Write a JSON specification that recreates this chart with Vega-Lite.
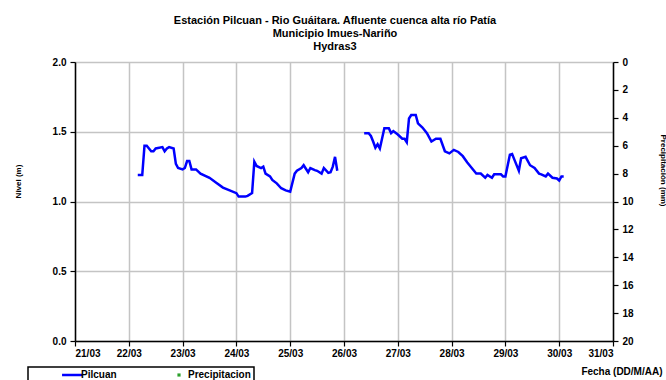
{
  "$schema": "https://vega.github.io/schema/vega-lite/v6.json",
  "width": 538,
  "height": 279,
  "autosize": {"type": "none"},
  "padding": {"left": 75, "top": 62, "right": 53, "bottom": 39},
  "background": "white",
  "title": {
    "text": ["Estación Pilcuan - Rio Guáitara. Afluente cuenca alta río Patía", "Municipio Imues-Nariño", "Hydras3"],
    "font": "Liberation Sans", "fontSize": 11, "fontWeight": "bold", "lineHeight": 13,
    "offset": 5, "dx": -9, "color": "black"
  },
  "config": {
    "view": {"stroke": null},
    "axis": {
      "labelFont": "Liberation Sans", "labelFontWeight": "bold", "labelFontSize": 10, "labelColor": "black",
      "titleFont": "Liberation Sans", "titleFontWeight": "bold", "titleFontSize": 10, "titleColor": "black",
      "domainColor": "black", "domainWidth": 1.5, "tickColor": "black", "tickSize": 5, "tickWidth": 1.2,
      "gridColor": "#c4c4c4", "gridWidth": 1.5
    },
    "legend": {
      "orient": "none", "legendX": -47, "legendY": 305, "direction": "horizontal",
      "strokeColor": "black", "strokeWidth": 1.5, "padding": 3, "title": null,
      "labelFont": "Liberation Sans", "labelFontWeight": "bold", "labelFontSize": 10, "labelColor": "black",
      "columnPadding": 21, "symbolOffset": 36, "labelOffset": 4
    }
  },
  "data": {"values": [
    {"t": "2012-03-22T04:00", "nivel": 1.19, "seg": 1, "serie": "Pilcuan"},
    {"t": "2012-03-22T06:00", "nivel": 1.19, "seg": 1, "serie": "Pilcuan"},
    {"t": "2012-03-22T07:00", "nivel": 1.40, "seg": 1, "serie": "Pilcuan"},
    {"t": "2012-03-22T08:00", "nivel": 1.40, "seg": 1, "serie": "Pilcuan"},
    {"t": "2012-03-22T10:00", "nivel": 1.36, "seg": 1, "serie": "Pilcuan"},
    {"t": "2012-03-22T11:00", "nivel": 1.36, "seg": 1, "serie": "Pilcuan"},
    {"t": "2012-03-22T12:00", "nivel": 1.38, "seg": 1, "serie": "Pilcuan"},
    {"t": "2012-03-22T15:00", "nivel": 1.39, "seg": 1, "serie": "Pilcuan"},
    {"t": "2012-03-22T16:00", "nivel": 1.36, "seg": 1, "serie": "Pilcuan"},
    {"t": "2012-03-22T17:00", "nivel": 1.38, "seg": 1, "serie": "Pilcuan"},
    {"t": "2012-03-22T18:00", "nivel": 1.39, "seg": 1, "serie": "Pilcuan"},
    {"t": "2012-03-22T20:00", "nivel": 1.38, "seg": 1, "serie": "Pilcuan"},
    {"t": "2012-03-22T21:00", "nivel": 1.27, "seg": 1, "serie": "Pilcuan"},
    {"t": "2012-03-22T22:00", "nivel": 1.24, "seg": 1, "serie": "Pilcuan"},
    {"t": "2012-03-23T00:00", "nivel": 1.23, "seg": 1, "serie": "Pilcuan"},
    {"t": "2012-03-23T01:00", "nivel": 1.24, "seg": 1, "serie": "Pilcuan"},
    {"t": "2012-03-23T02:00", "nivel": 1.29, "seg": 1, "serie": "Pilcuan"},
    {"t": "2012-03-23T03:00", "nivel": 1.29, "seg": 1, "serie": "Pilcuan"},
    {"t": "2012-03-23T04:00", "nivel": 1.23, "seg": 1, "serie": "Pilcuan"},
    {"t": "2012-03-23T06:00", "nivel": 1.23, "seg": 1, "serie": "Pilcuan"},
    {"t": "2012-03-23T08:00", "nivel": 1.20, "seg": 1, "serie": "Pilcuan"},
    {"t": "2012-03-23T12:00", "nivel": 1.17, "seg": 1, "serie": "Pilcuan"},
    {"t": "2012-03-23T15:00", "nivel": 1.135, "seg": 1, "serie": "Pilcuan"},
    {"t": "2012-03-23T18:00", "nivel": 1.10, "seg": 1, "serie": "Pilcuan"},
    {"t": "2012-03-23T21:00", "nivel": 1.08, "seg": 1, "serie": "Pilcuan"},
    {"t": "2012-03-24T00:00", "nivel": 1.06, "seg": 1, "serie": "Pilcuan"},
    {"t": "2012-03-24T01:00", "nivel": 1.035, "seg": 1, "serie": "Pilcuan"},
    {"t": "2012-03-24T04:00", "nivel": 1.035, "seg": 1, "serie": "Pilcuan"},
    {"t": "2012-03-24T05:00", "nivel": 1.04, "seg": 1, "serie": "Pilcuan"},
    {"t": "2012-03-24T07:00", "nivel": 1.06, "seg": 1, "serie": "Pilcuan"},
    {"t": "2012-03-24T08:00", "nivel": 1.285, "seg": 1, "serie": "Pilcuan"},
    {"t": "2012-03-24T09:00", "nivel": 1.255, "seg": 1, "serie": "Pilcuan"},
    {"t": "2012-03-24T11:00", "nivel": 1.24, "seg": 1, "serie": "Pilcuan"},
    {"t": "2012-03-24T12:00", "nivel": 1.25, "seg": 1, "serie": "Pilcuan"},
    {"t": "2012-03-24T13:00", "nivel": 1.20, "seg": 1, "serie": "Pilcuan"},
    {"t": "2012-03-24T15:00", "nivel": 1.18, "seg": 1, "serie": "Pilcuan"},
    {"t": "2012-03-24T16:00", "nivel": 1.155, "seg": 1, "serie": "Pilcuan"},
    {"t": "2012-03-24T18:00", "nivel": 1.13, "seg": 1, "serie": "Pilcuan"},
    {"t": "2012-03-24T20:00", "nivel": 1.095, "seg": 1, "serie": "Pilcuan"},
    {"t": "2012-03-24T22:00", "nivel": 1.08, "seg": 1, "serie": "Pilcuan"},
    {"t": "2012-03-25T00:00", "nivel": 1.07, "seg": 1, "serie": "Pilcuan"},
    {"t": "2012-03-25T02:00", "nivel": 1.20, "seg": 1, "serie": "Pilcuan"},
    {"t": "2012-03-25T03:00", "nivel": 1.22, "seg": 1, "serie": "Pilcuan"},
    {"t": "2012-03-25T05:00", "nivel": 1.24, "seg": 1, "serie": "Pilcuan"},
    {"t": "2012-03-25T06:00", "nivel": 1.26, "seg": 1, "serie": "Pilcuan"},
    {"t": "2012-03-25T08:00", "nivel": 1.21, "seg": 1, "serie": "Pilcuan"},
    {"t": "2012-03-25T09:00", "nivel": 1.24, "seg": 1, "serie": "Pilcuan"},
    {"t": "2012-03-25T11:00", "nivel": 1.225, "seg": 1, "serie": "Pilcuan"},
    {"t": "2012-03-25T12:00", "nivel": 1.22, "seg": 1, "serie": "Pilcuan"},
    {"t": "2012-03-25T14:00", "nivel": 1.20, "seg": 1, "serie": "Pilcuan"},
    {"t": "2012-03-25T15:00", "nivel": 1.24, "seg": 1, "serie": "Pilcuan"},
    {"t": "2012-03-25T17:00", "nivel": 1.205, "seg": 1, "serie": "Pilcuan"},
    {"t": "2012-03-25T18:00", "nivel": 1.21, "seg": 1, "serie": "Pilcuan"},
    {"t": "2012-03-25T19:00", "nivel": 1.25, "seg": 1, "serie": "Pilcuan"},
    {"t": "2012-03-25T20:00", "nivel": 1.32, "seg": 1, "serie": "Pilcuan"},
    {"t": "2012-03-25T21:00", "nivel": 1.22, "seg": 1, "serie": "Pilcuan"},
    {"t": "2012-03-26T09:00", "nivel": 1.49, "seg": 2, "serie": "Pilcuan"},
    {"t": "2012-03-26T11:00", "nivel": 1.49, "seg": 2, "serie": "Pilcuan"},
    {"t": "2012-03-26T12:00", "nivel": 1.47, "seg": 2, "serie": "Pilcuan"},
    {"t": "2012-03-26T13:00", "nivel": 1.43, "seg": 2, "serie": "Pilcuan"},
    {"t": "2012-03-26T14:00", "nivel": 1.385, "seg": 2, "serie": "Pilcuan"},
    {"t": "2012-03-26T15:00", "nivel": 1.41, "seg": 2, "serie": "Pilcuan"},
    {"t": "2012-03-26T16:00", "nivel": 1.38, "seg": 2, "serie": "Pilcuan"},
    {"t": "2012-03-26T18:00", "nivel": 1.525, "seg": 2, "serie": "Pilcuan"},
    {"t": "2012-03-26T20:00", "nivel": 1.525, "seg": 2, "serie": "Pilcuan"},
    {"t": "2012-03-26T21:00", "nivel": 1.49, "seg": 2, "serie": "Pilcuan"},
    {"t": "2012-03-26T22:00", "nivel": 1.505, "seg": 2, "serie": "Pilcuan"},
    {"t": "2012-03-27T00:00", "nivel": 1.48, "seg": 2, "serie": "Pilcuan"},
    {"t": "2012-03-27T02:00", "nivel": 1.45, "seg": 2, "serie": "Pilcuan"},
    {"t": "2012-03-27T03:00", "nivel": 1.45, "seg": 2, "serie": "Pilcuan"},
    {"t": "2012-03-27T04:00", "nivel": 1.425, "seg": 2, "serie": "Pilcuan"},
    {"t": "2012-03-27T05:00", "nivel": 1.595, "seg": 2, "serie": "Pilcuan"},
    {"t": "2012-03-27T06:00", "nivel": 1.62, "seg": 2, "serie": "Pilcuan"},
    {"t": "2012-03-27T08:00", "nivel": 1.62, "seg": 2, "serie": "Pilcuan"},
    {"t": "2012-03-27T09:00", "nivel": 1.56, "seg": 2, "serie": "Pilcuan"},
    {"t": "2012-03-27T11:00", "nivel": 1.53, "seg": 2, "serie": "Pilcuan"},
    {"t": "2012-03-27T13:00", "nivel": 1.49, "seg": 2, "serie": "Pilcuan"},
    {"t": "2012-03-27T15:00", "nivel": 1.43, "seg": 2, "serie": "Pilcuan"},
    {"t": "2012-03-27T17:00", "nivel": 1.45, "seg": 2, "serie": "Pilcuan"},
    {"t": "2012-03-27T19:00", "nivel": 1.45, "seg": 2, "serie": "Pilcuan"},
    {"t": "2012-03-27T21:00", "nivel": 1.36, "seg": 2, "serie": "Pilcuan"},
    {"t": "2012-03-27T23:00", "nivel": 1.345, "seg": 2, "serie": "Pilcuan"},
    {"t": "2012-03-28T01:00", "nivel": 1.37, "seg": 2, "serie": "Pilcuan"},
    {"t": "2012-03-28T03:00", "nivel": 1.355, "seg": 2, "serie": "Pilcuan"},
    {"t": "2012-03-28T05:00", "nivel": 1.325, "seg": 2, "serie": "Pilcuan"},
    {"t": "2012-03-28T07:00", "nivel": 1.28, "seg": 2, "serie": "Pilcuan"},
    {"t": "2012-03-28T09:00", "nivel": 1.24, "seg": 2, "serie": "Pilcuan"},
    {"t": "2012-03-28T11:00", "nivel": 1.20, "seg": 2, "serie": "Pilcuan"},
    {"t": "2012-03-28T13:00", "nivel": 1.20, "seg": 2, "serie": "Pilcuan"},
    {"t": "2012-03-28T15:00", "nivel": 1.17, "seg": 2, "serie": "Pilcuan"},
    {"t": "2012-03-28T16:00", "nivel": 1.19, "seg": 2, "serie": "Pilcuan"},
    {"t": "2012-03-28T18:00", "nivel": 1.17, "seg": 2, "serie": "Pilcuan"},
    {"t": "2012-03-28T19:00", "nivel": 1.195, "seg": 2, "serie": "Pilcuan"},
    {"t": "2012-03-28T22:00", "nivel": 1.195, "seg": 2, "serie": "Pilcuan"},
    {"t": "2012-03-28T23:00", "nivel": 1.18, "seg": 2, "serie": "Pilcuan"},
    {"t": "2012-03-29T00:00", "nivel": 1.18, "seg": 2, "serie": "Pilcuan"},
    {"t": "2012-03-29T02:00", "nivel": 1.335, "seg": 2, "serie": "Pilcuan"},
    {"t": "2012-03-29T03:00", "nivel": 1.34, "seg": 2, "serie": "Pilcuan"},
    {"t": "2012-03-29T04:00", "nivel": 1.30, "seg": 2, "serie": "Pilcuan"},
    {"t": "2012-03-29T06:00", "nivel": 1.22, "seg": 2, "serie": "Pilcuan"},
    {"t": "2012-03-29T07:00", "nivel": 1.31, "seg": 2, "serie": "Pilcuan"},
    {"t": "2012-03-29T09:00", "nivel": 1.32, "seg": 2, "serie": "Pilcuan"},
    {"t": "2012-03-29T11:00", "nivel": 1.26, "seg": 2, "serie": "Pilcuan"},
    {"t": "2012-03-29T13:00", "nivel": 1.24, "seg": 2, "serie": "Pilcuan"},
    {"t": "2012-03-29T15:00", "nivel": 1.20, "seg": 2, "serie": "Pilcuan"},
    {"t": "2012-03-29T16:00", "nivel": 1.195, "seg": 2, "serie": "Pilcuan"},
    {"t": "2012-03-29T18:00", "nivel": 1.18, "seg": 2, "serie": "Pilcuan"},
    {"t": "2012-03-29T19:00", "nivel": 1.20, "seg": 2, "serie": "Pilcuan"},
    {"t": "2012-03-29T21:00", "nivel": 1.17, "seg": 2, "serie": "Pilcuan"},
    {"t": "2012-03-29T23:00", "nivel": 1.165, "seg": 2, "serie": "Pilcuan"},
    {"t": "2012-03-30T00:00", "nivel": 1.15, "seg": 2, "serie": "Pilcuan"},
    {"t": "2012-03-30T01:00", "nivel": 1.18, "seg": 2, "serie": "Pilcuan"},
    {"t": "2012-03-30T02:00", "nivel": 1.18, "seg": 2, "serie": "Pilcuan"},
    {"t": "2012-03-22T00:00", "precip": null, "serie": "Precipitacion"}
  ]},
  "layer": [
    {
      "transform": [{"filter": "datum.serie === 'Pilcuan'"}],
      "mark": {"type": "line", "strokeWidth": 2.5},
      "encoding": {
        "x": {"field": "t", "type": "temporal",
          "scale": {"domain": [{"year": 2012, "month": 3, "date": 21}, {"year": 2012, "month": 3, "date": 31}]},
          "axis": {"title": "Fecha (DD/M/AA)", "format": "%d/%m", "tickCount": {"interval": "day", "step": 1},
            "labelPadding": 2, "titleX": 587, "titleY": 33, "titleAlign": "right", "titleBaseline": "alphabetic", "titleAnchor": null}},
        "y": {"field": "nivel", "type": "quantitative",
          "scale": {"domain": [0, 2]},
          "axis": {"title": "Nivel (m)", "values": [0, 0.5, 1, 1.5, 2], "format": ".1f", "labelPadding": 4,
            "titleFontSize": 8, "titleX": -57, "titleY": 119, "titleAngle": -90, "titleAlign": "center", "titleBaseline": "middle"}},
        "detail": {"field": "seg", "type": "nominal"},
        "color": {"field": "serie", "type": "nominal",
          "scale": {"domain": ["Pilcuan", "Precipitacion"], "range": ["#0000ff", "#2ca02c"]},
          "legend": {
            "labelExpr": "datum.value === 'Precipitacion' ? datum.label + '\u00a0\u00a0\u00a0\u00a0\u00a0\u00a0\u00a0\u00a0\u00a0\u00a0\u00a0\u00a0\u00a0' : datum.label",
            "encode": {"symbols": {"update": {
              "stroke": {"scale": "color", "field": "value"},
              "strokeWidth": {"signal": "datum.value === 'Pilcuan' ? 2.5 : 0"}
            }}}
          }}
      }
    },
    {
      "transform": [{"filter": "datum.serie === 'Precipitacion'"}],
      "mark": {"type": "point", "filled": true},
      "encoding": {
        "x": {"field": "t", "type": "temporal"},
        "y": {"field": "precip", "type": "quantitative",
          "scale": {"domain": [0, 20], "reverse": true, "nice": false},
          "axis": {"orient": "right", "title": "Precipitación (mm)", "values": [0, 2, 4, 6, 8, 10, 12, 14, 16, 18, 20],
            "grid": false, "labelPadding": 4, "titleFontSize": 8, "titleX": 49, "titleY": 108, "titleAngle": 90,
            "titleAlign": "center", "titleBaseline": "middle"}},
        "color": {"field": "serie", "type": "nominal",
          "scale": {"domain": ["Pilcuan", "Precipitacion"], "range": ["#0000ff", "#2ca02c"]},
          "legend": {
            "labelExpr": "datum.value === 'Precipitacion' ? datum.label + '\u00a0\u00a0\u00a0\u00a0\u00a0\u00a0\u00a0\u00a0\u00a0\u00a0\u00a0\u00a0\u00a0' : datum.label",
            "encode": {"symbols": {"update": {
              "stroke": {"scale": "color", "field": "value"},
              "strokeWidth": {"signal": "datum.value === 'Pilcuan' ? 2.5 : 0"}
            }}}
          }},
        "shape": {"field": "serie", "type": "nominal",
          "scale": {"domain": ["Pilcuan", "Precipitacion"], "range": ["M-3,0H3", "square"]}},
        "size": {"field": "serie", "type": "nominal",
          "scale": {"domain": ["Pilcuan", "Precipitacion"], "range": [44, 10]}}
      }
    }
  ],
  "resolve": {"scale": {"y": "independent"}}
}
